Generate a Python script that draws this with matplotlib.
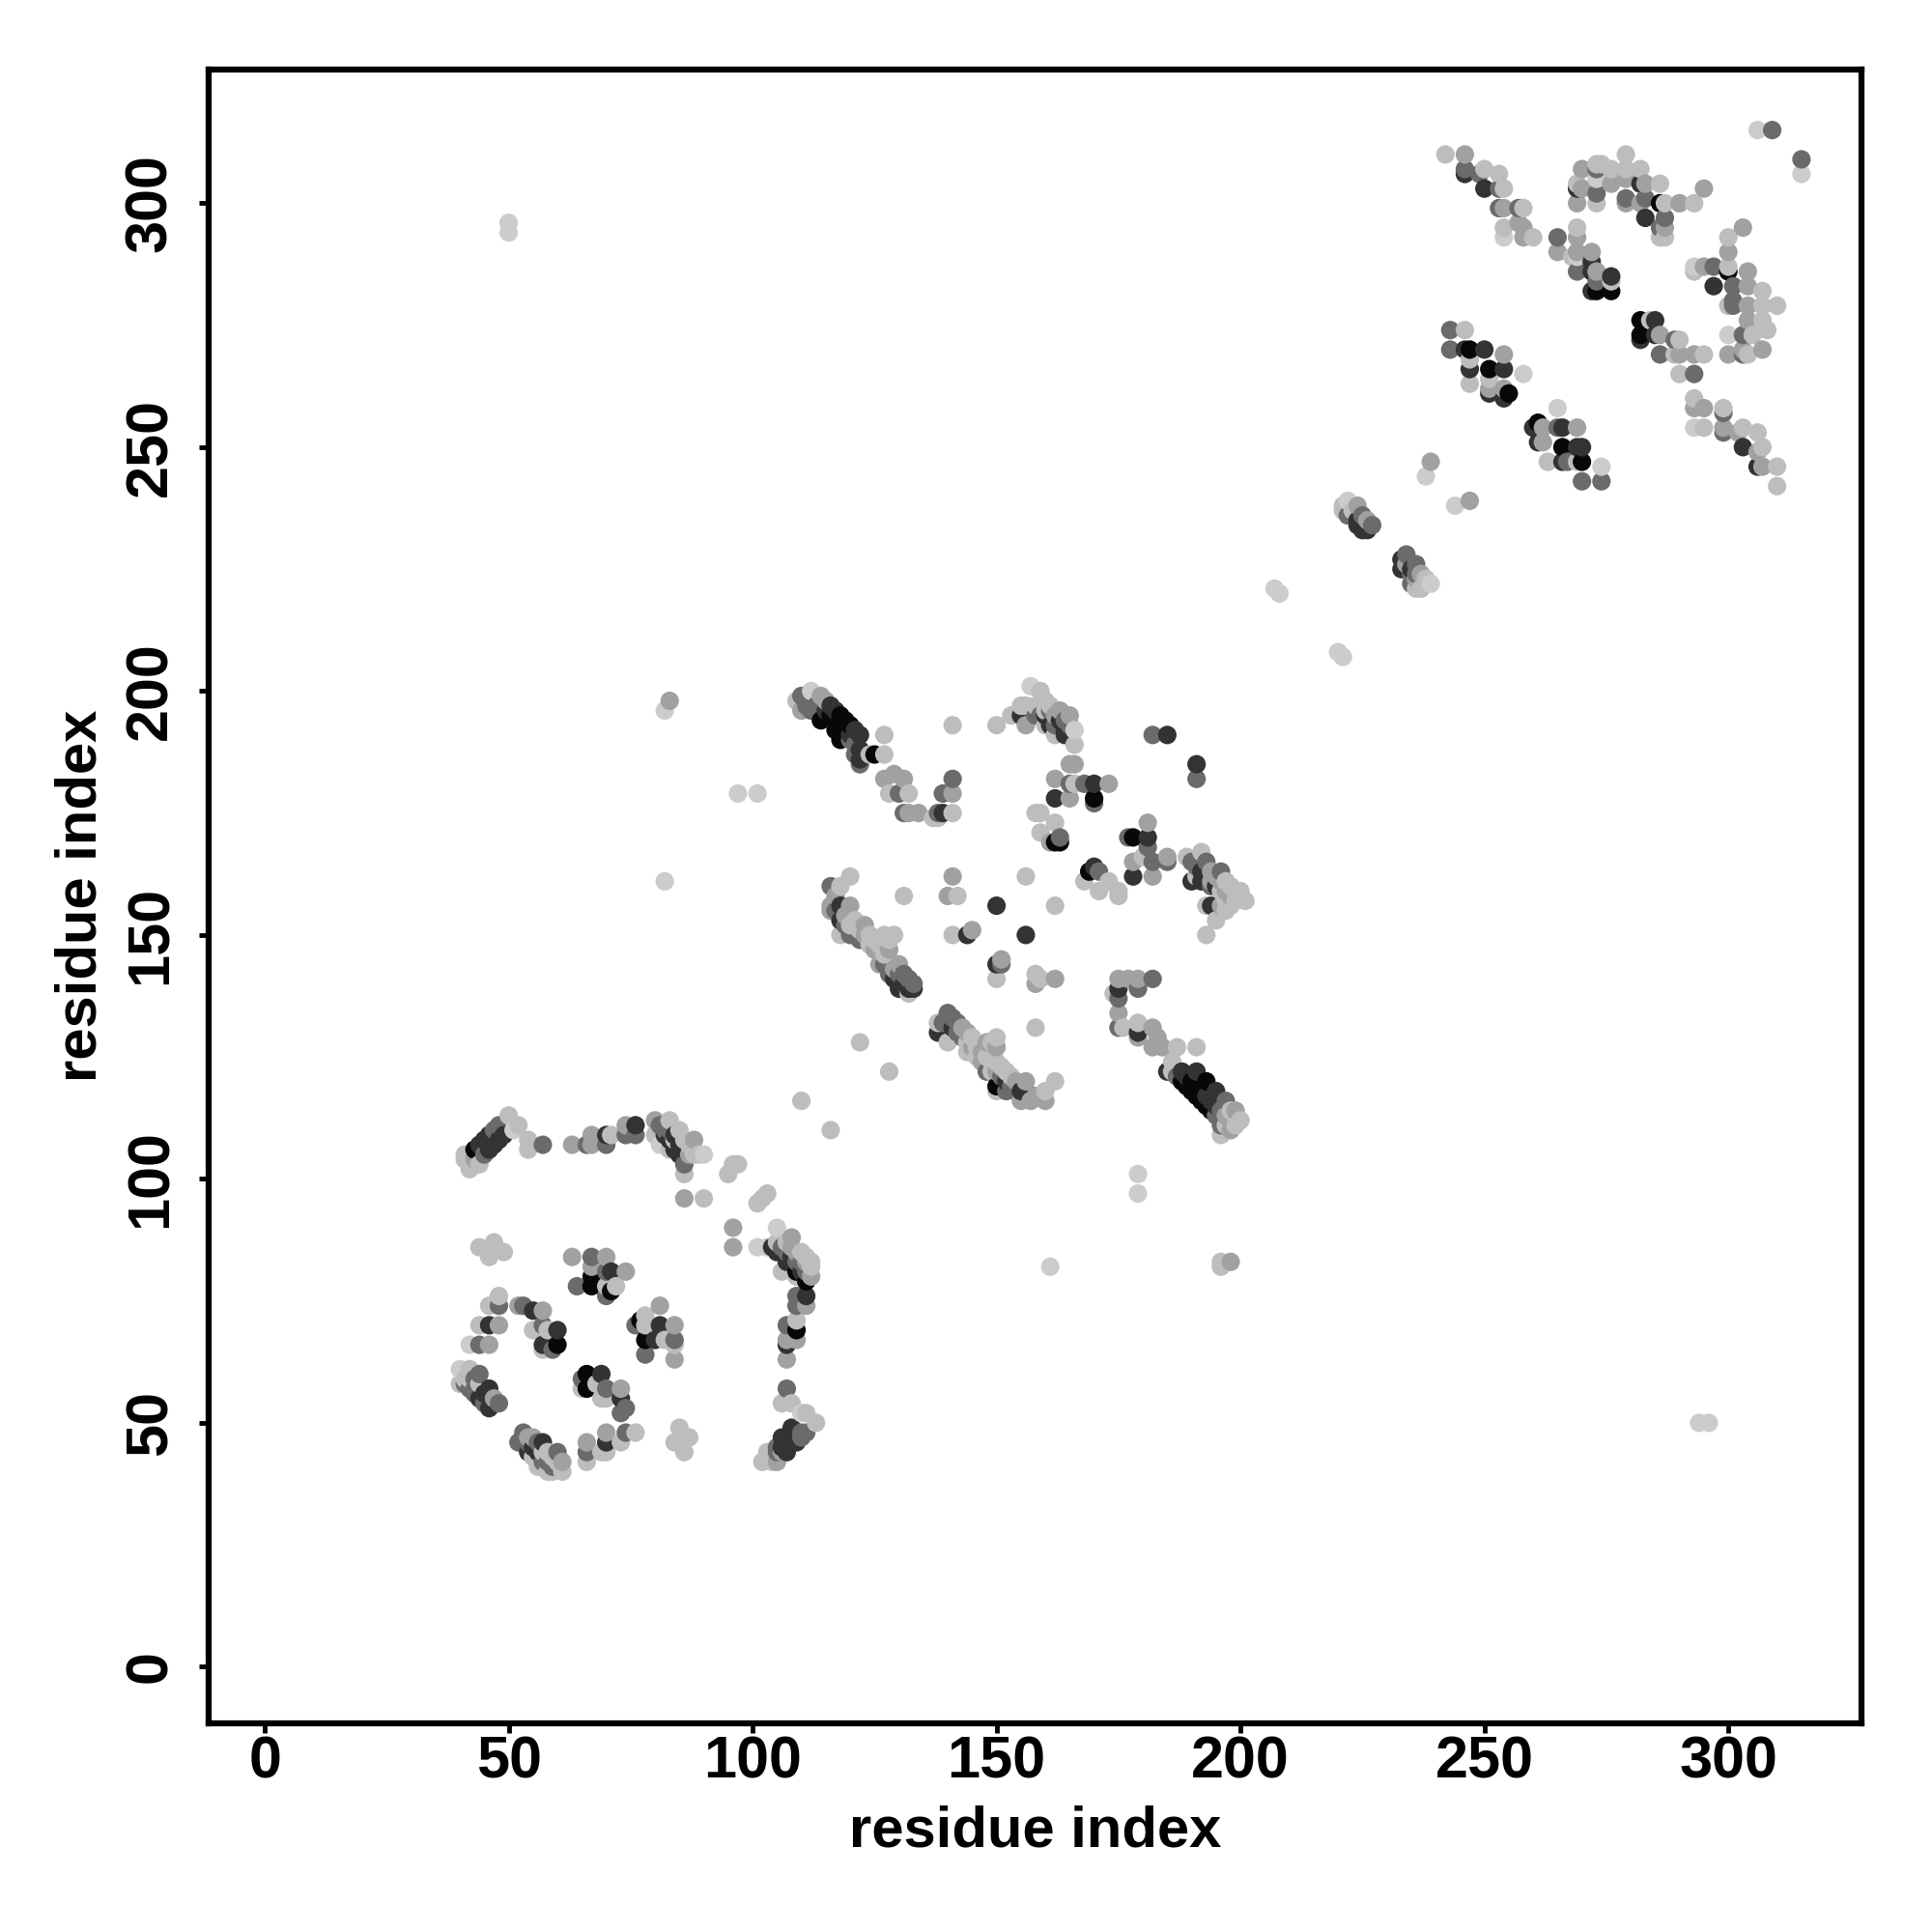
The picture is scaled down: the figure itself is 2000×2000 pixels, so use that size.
import pandas as pd
import matplotlib
matplotlib.use('Agg')
import matplotlib.pyplot as plt

# contacts: (residue i, residue j, shade)
shade = {'k': 0.03, 'd': 0.2, 'm': 0.42, 'g': 0.63, 'l': 0.74, 'p': 0.8}

arc_low = [(42,102,'l'),(41,104,'l'),(41,105,'l'),(44,103,'l'),(43,104,'g'),(45,105,'m'),(46,106,'d'),(47,107,'d'),
           (48,108,'d'),(49,109,'d'),(43,106,'k'),(44,107,'d'),(45,108,'d'),(46,109,'d'),(47,110,'m'),(48,111,'m'),
           (50,113,'l'),(52,111,'l'),(51,110,'p'),(54,108,'l'),(54,106,'l'),(57,107,'m'),
           (63,107,'g'),(66,107,'m'),(67,107,'g'),(67,109,'g'),(70,107,'m'),(70,109,'d'),(71,109,'l'),(74,109,'m'),
           (74,111,'g'),(76,109,'m'),(76,111,'d'),(80,112,'g'),(80,109,'l'),(81,107,'p'),(83,112,'l'),(82,110,'m'),
           (81,111,'m'),(85,110,'l'),(83,108,'d'),(84,106,'d'),(85,105,'d'),(86,108,'l'),(88,108,'g'),(89,105,'l'),
           (90,105,'p'),(86,103,'m'),(86,101,'l'),
           (83,110,'m'),(84,109,'d'),(85,107,'d'),(86,106,'d'),(87,107,'l'),(87,105,'g'),(88,105,'l'),(82,109,'d'),
           (83,106,'l'),(84,108,'l')]
singles_low = [(86,96,'g'),(90,96,'l'),(95,101,'l'),(96,103,'l'),(97,103,'l'),(101,95,'l'),(102,96,'l'),(103,97,'l'),
               (96,90,'g'),(96,86,'g'),(101,86,'p'),(103,86,'p'),(110,116,'l'),(116,110,'l')]
arc_right = [(105,90,'p'),(108,88,'g'),(110,85,'l'),(112,83,'l'),(112,80,'g'),(106,81,'l'),(109,80,'l'),(104,86,'d'),
             (105,85,'d'),(107,83,'d'),(109,81,'k'),(111,79,'k'),(107,85,'m'),(109,83,'m'),(111,81,'m'),
             (109,76,'m'),(111,76,'d'),(109,74,'m'),(111,74,'g'),(107,70,'m'),(109,69,'k'),(109,71,'l'),(107,67,'g'),
             (109,67,'g'),(107,66,'d'),(107,63,'g'),(107,57,'m'),(106,54,'l'),(108,54,'l'),(110,52,'p'),(111,52,'l'),
             (113,50,'l'),(108,49,'d'),(110,48,'m'),(111,48,'m'),(106,47,'d'),(109,46,'d'),(105,45,'m'),(107,44,'d'),
             (105,44,'m'),(103,44,'l'),(102,42,'l'),(104,42,'l'),(105,42,'g'),(108,47,'d'),(107,46,'d'),(106,45,'d'),
             (105,87,'l'),(106,86,'m'),(107,87,'l'),(108,86,'g'),(108,84,'d'),(109,85,'g'),(110,83,'m'),(110,81,'d'),
             (111,83,'g'),(112,82,'l'),(111,84,'l'),(108,46,'d'),(109,48,'d'),(110,47,'m'),(104,43,'l'),(106,44,'g'),
             (103,43,'l')]
ring = [(44,86,'l'),(47,87,'l'),(49,85,'l'),(46,84,'l'),(63,84,'g'),(67,84,'m'),(70,84,'g'),(67,82,'g'),(67,80,'k'),
        (67,78,'k'),(64,78,'m'),(71,81,'d'),(70,81,'m'),(74,81,'g'),(70,76,'m'),(71,77,'k'),(72,78,'l'),(70,78,'l'),
        (48,76,'l'),(46,74,'l'),(48,74,'m'),(44,70,'l'),(46,70,'d'),(48,70,'g'),(42,66,'p'),(44,66,'m'),(46,66,'g'),
        (52,74,'g'),(53,74,'m'),(55,73,'d'),(57,73,'g'),(55,69,'l'),(57,70,'m'),(58,69,'l'),(60,69,'d'),(57,66,'d'),
        (59,65,'m'),(60,66,'k'),(57,65,'l'),(81,74,'g'),(78,72,'l'),(76,70,'m'),(77,71,'k'),(78,70,'l'),(81,70,'d'),
        (84,70,'g'),(78,67,'k'),(80,67,'d'),(82,67,'l'),(84,67,'m'),(78,64,'m'),(84,63,'g'),(84,66,'l'),
        (40,61,'p'),(42,61,'l'),(44,60,'m'),(40,58,'l'),(41,58,'m'),(43,57,'m'),(46,57,'d'),(44,55,'d'),(47,55,'g'),
        (46,53,'d'),(48,54,'m'),(42,59,'l'),(53,48,'m'),(55,47,'g'),(57,46,'d'),(52,46,'m'),(55,45,'d'),(58,44,'l'),
        (60,44,'m'),(61,42,'g'),(55,43,'l'),(57,42,'m'),(58,40,'l'),(61,40,'l'),(59,41,'m'),
        (66,46,'g'),(66,44,'m'),(66,42,'l'),(70,48,'g'),(70,46,'d'),(69,44,'l'),(70,44,'l'),(74,48,'m'),(76,48,'l'),
        (73,46,'l'),(85,49,'l'),(84,46,'l'),(87,47,'l'),(86,44,'l'),(66,60,'k'),(69,60,'d'),(65,59,'m'),(66,57,'k'),
        (65,57,'l'),(68,58,'l'),(70,57,'m'),(73,57,'g'),(69,55,'l'),(70,55,'l'),(73,55,'d'),(74,53,'m'),(73,52,'m'),
        (41,59,'l'),(42,57,'m'),(43,59,'m'),(44,58,'l'),(45,56,'d'),(45,54,'m'),(47,54,'d'),(43,56,'m'),
        (54,46,'m'),(54,44,'d'),(56,44,'d'),(56,46,'m'),(57,44,'l'),(58,42,'m'),(59,43,'l'),(60,42,'l'),(59,40,'l'),
        (54,47,'g'),(56,41,'l')]

strand_a = [(110,196,'g'),(112,200,'p'),(110,199,'m'),(114,199,'g'),(109,198,'l'),(112,196,'m'),(116,197,'d'),(118,195,'k'),
            (120,193,'k'),(122,191,'d'),(114,194,'k'),(117,192,'k'),(118,190,'k'),(121,187,'m'),(122,185,'m'),(122,186,'d'),
            (124,187,'l'),(125,187,'k'),(127,187,'l'),(127,191,'l'),(127,182,'g'),(129,183,'g'),(131,182,'g'),(128,179,'l'),
            (130,179,'m'),(132,179,'l'),(131,175,'m'),(132,175,'g'),(134,175,'g'),(137,174,'l'),(138,175,'m'),(139,175,'d'),
            (141,175,'l'),(139,179,'m'),(141,179,'g'),(141,182,'m'),(138,174,'l'),(141,193,'l'),
            (111,197,'m'),(113,197,'m'),(115,196,'d'),(116,195,'k'),(117,194,'k'),(118,193,'k'),(119,192,'k'),(120,191,'d'),
            (115,198,'g'),(117,196,'d'),(119,194,'k'),(121,192,'d'),(120,190,'m'),(121,189,'m'),(122,188,'d'),(123,187,'d')]
strand_b = [(150,193,'l'),(153,195,'l'),(155,197,'l'),(156,193,'g'),(155,195,'d'),(157,201,'p'),(159,200,'l'),(156,197,'l'),
            (160,198,'l'),(163,196,'g'),(159,195,'m'),(161,193,'d'),(160,193,'l'),(164,194,'m'),(165,193,'m'),(162,191,'l'),
            (164,191,'d'),(166,189,'l'),(166,192,'p'),
            (158,197,'l'),(158,195,'m'),(160,195,'d'),(160,196,'l'),(161,197,'l'),(162,195,'g'),(162,193,'m'),(163,194,'d'),
            (164,192,'d'),(165,195,'g'),(161,196,'m')]
patch_mid = [(182,191,'m'),(185,191,'d'),(191,185,'d'),(191,182,'m'),(165,185,'g'),(166,185,'g'),(162,182,'g'),(165,181,'m'),
             (166,181,'l'),(168,181,'m'),(170,181,'d'),(173,181,'g'),(162,178,'d'),(165,178,'g'),(170,177,'m'),(170,178,'k'),
             (158,175,'l'),(159,175,'l'),(159,171,'l'),(162,173,'l'),(161,169,'g'),(162,169,'k'),(163,169,'k'),(163,170,'m'),
             (177,170,'m'),(178,170,'k'),(181,173,'g'),(181,170,'d'),(181,168,'m'),(180,166,'l'),(178,165,'g'),(182,165,'m'),
             (185,165,'m'),(185,166,'g'),(178,162,'d'),(182,162,'g'),(189,166,'l'),(192,167,'l'),(190,165,'m'),(193,165,'m'),
             (196,163,'m'),(191,162,'l'),(192,161,'d'),(194,161,'g'),(197,161,'l'),(194,160,'m'),(200,159,'l'),(201,157,'l'),
             (197,157,'l'),(198,158,'g'),(193,156,'l'),(194,156,'d'),(197,155,'l'),(195,153,'l'),(193,150,'l'),(190,161,'d'),
             (170,164,'d'),(169,163,'k'),(171,163,'m'),(168,161,'l'),(173,161,'l'),(171,159,'l'),(175,159,'l'),(175,158,'l'),
             (191,164,'m'),(192,163,'d'),(193,162,'d'),(194,163,'g'),(195,162,'g'),(195,160,'d'),(196,161,'g'),(196,159,'l'),
             (197,159,'g'),(198,160,'l'),(199,159,'l'),(199,157,'l'),(198,156,'l'),(196,156,'g')]
strand_c = [(120,162,'l'),(118,160,'l'),(116,160,'m'),(116,156,'g'),(118,156,'d'),(120,156,'g'),(116,155,'g'),(118,153,'d'),
            (121,153,'l'),(123,152,'g'),(118,150,'l'),(120,150,'m'),(122,149,'m'),(124,148,'l'),(127,150,'l'),(129,150,'l'),
            (128,149,'l'),(128,147,'g'),(126,144,'g'),(130,144,'g'),(128,142,'m'),(131,142,'m'),(133,140,'m'),(130,139,'d'),
            (132,138,'l'),(132,139,'d'),(131,158,'l'),(141,162,'g'),(140,158,'g'),(142,158,'l'),(150,156,'d'),(156,162,'l'),
            (162,156,'l'),(156,150,'d'),(141,150,'l'),(144,150,'d'),(145,151,'g'),(151,145,'g'),(150,144,'d'),(151,144,'m'),
            (150,141,'l'),(158,142,'l'),(158,140,'g'),(159,141,'l'),(162,141,'g'),(158,131,'l'),(122,128,'l'),(128,122,'l'),
            (117,158,'g'),(117,155,'m'),(119,154,'g'),(119,152,'m'),(120,152,'l'),(122,151,'l'),(123,150,'g'),(124,150,'l'),
            (125,149,'l'),(125,147,'g'),(126,148,'l'),(127,146,'l'),(127,144,'m'),(129,143,'g'),(129,141,'d'),(130,142,'m'),
            (131,140,'d'),(132,141,'m'),(133,139,'d')]
strand_d = [(140,134,'m'),(139,132,'m'),(138,132,'l'),(142,132,'m'),(138,130,'d'),(140,128,'l'),(144,130,'g'),(145,129,'l'),
            (144,126,'l'),(146,125,'l'),(150,129,'l'),(149,128,'l'),(150,127,'g'),(147,124,'g'),(148,122,'m'),(151,123,'l'),
            (153,121,'l'),(150,118,'l'),(156,120,'g'),(156,118,'d'),(154,118,'m'),(152,118,'m'),(150,119,'k'),(155,116,'g'),
            (157,116,'g'),(160,118,'l'),(162,120,'l'),(160,116,'g'),
            (141,133,'m'),(141,131,'d'),(142,130,'m'),(143,131,'g'),(143,129,'m'),(144,128,'l'),(145,127,'g'),(146,127,'l'),
            (147,126,'g'),(148,128,'g'),(148,125,'l'),(149,124,'l'),(149,122,'l'),(150,124,'l'),(150,122,'g'),(151,121,'m'),
            (152,122,'l'),(152,120,'d'),(153,119,'m'),(154,120,'g'),(155,118,'d'),(158,117,'g')]
strand_e = [(175,141,'g'),(179,141,'g'),(177,141,'g'),(182,141,'m'),(179,139,'m'),(175,139,'d'),(174,138,'l'),(175,137,'m'),
            (175,134,'g'),(175,131,'m'),(176,131,'l'),(179,132,'l'),(179,130,'d'),(179,129,'g'),(182,131,'g'),(183,129,'g'),
            (182,127,'g'),(184,127,'g'),(187,127,'l'),(191,127,'l'),(185,122,'d'),(186,122,'l'),(188,122,'d'),(191,122,'d'),
            (193,120,'k'),(195,118,'d'),(197,116,'m'),(189,119,'k'),(191,117,'k'),(193,115,'k'),(199,114,'g'),(200,112,'l'),
            (196,111,'m'),(198,110,'g'),(196,109,'l'),(198,114,'l'),
            (186,124,'l'),(187,121,'m'),(188,120,'k'),(189,121,'d'),(190,120,'k'),(190,118,'k'),(191,119,'k'),(192,118,'k'),
            (192,116,'k'),(193,117,'d'),(194,116,'d'),(194,114,'k'),(195,115,'d'),(195,113,'m'),(196,114,'m'),(196,112,'m'),
            (197,113,'g'),(197,111,'l'),(198,112,'g'),(199,111,'l')]
sparse = [(50,296,'p'),(50,294,'p'),(294,50,'p'),(296,50,'p'),(97,179,'p'),(101,179,'p'),(82,161,'p'),(82,196,'p'),(83,198,'g'),
          (179,101,'p'),(179,97,'p'),(161,82,'p'),(196,83,'l'),(196,82,'l'),(198,83,'g'),(116,110,'l'),
          (207,221,'p'),(208,220,'p'),(220,208,'p'),(221,207,'p'),
          (239,247,'g'),(238,244,'p'),(247,239,'g'),(244,238,'p')]
helix_mid = [(222,239,'p'),(221,238,'l'),(224,238,'g'),(221,237,'l'),(223,236,'m'),(225,236,'m'),(225,233,'d'),(226,233,'d'),
             (227,234,'m'),(234,228,'m'),(233,227,'d'),(233,225,'d'),(236,226,'m'),(237,224,'g'),(235,222,'m'),(237,221,'l'),
             (239,222,'p'),(236,221,'l'),
             (222,236,'m'),(223,237,'l'),(224,235,'d'),(224,234,'d'),(226,235,'g'),(234,225,'d'),(234,226,'g'),(235,225,'d'),
             (235,224,'m'),(236,223,'g'),(238,222,'l'),(238,223,'l'),(236,224,'m')]
upper_a = [(243,274,'m'),(246,274,'l'),(243,270,'m'),(246,270,'d'),(247,270,'k'),(250,270,'d'),(254,269,'g'),(247,268,'l'),
           (247,266,'d'),(251,266,'k'),(254,266,'d'),(258,265,'p'),(247,263,'l'),(251,262,'g'),(251,261,'d'),(254,262,'g'),
           (254,260,'d'),(255,261,'k'),(251,264,'l'),(265,258,'p'),(260,254,'d'),(261,255,'k'),(262,254,'g'),(265,254,'m'),
           (266,254,'d'),(269,254,'g'),(261,251,'d'),(262,251,'g'),(266,250,'k'),(270,250,'d'),(269,250,'d'),(263,247,'l'),
           (266,247,'d'),(267,247,'m'),(269,247,'l'),(270,247,'k'),(270,243,'m'),(274,246,'p'),(274,243,'m')]
upper_b = [(282,276,'k'),(285,276,'d'),(284,276,'l'),(282,273,'k'),(282,272,'d'),(286,273,'g'),(285,273,'d'),(286,269,'m'),
           (289,272,'m'),(290,272,'l'),(289,269,'l'),(290,269,'g'),(293,269,'g'),(295,269,'l'),(290,265,'l'),(293,265,'m'),
           (293,260,'l'),(293,258,'g'),(295,258,'g'),(299,258,'l'),(299,257,'m'),(293,254,'p'),(295,254,'l'),(299,254,'g'),
           (299,253,'m'),(302,253,'g'),(303,254,'l'),(306,253,'l'),(303,250,'d'),(306,249,'g'),(307,250,'l'),(306,246,'d'),
           (307,246,'g'),(310,246,'l'),(310,242,'l'),(300,279,'l'),(301,279,'m'),(304,279,'g'),(307,279,'l'),(310,279,'l'),
           (300,273,'p'),(303,273,'m'),(304,276,'g'),(307,276,'l'),(305,273,'l'),(308,274,'l'),(300,269,'g'),(303,269,'m'),
           (304,269,'l'),(307,270,'g'),(303,270,'g')]
upper_c = [(242,310,'l'),(246,310,'g'),(246,307,'m'),(246,306,'d'),(250,307,'l'),(249,306,'m'),(253,306,'l'),(250,303,'d'),
           (253,303,'m'),(254,303,'l'),(253,299,'m'),(254,299,'g'),(257,299,'m'),(258,299,'l'),(254,295,'l'),(254,293,'p'),
           (257,296,'g'),(258,295,'g'),(258,293,'g'),(260,293,'l'),(265,293,'m'),(269,295,'l'),(269,293,'g'),(265,290,'g'),
           (269,290,'g'),(268,289,'l'),(272,290,'g'),(269,289,'p'),(272,288,'d'),(269,286,'m'),(272,286,'d'),(273,286,'g'),
           (276,285,'d'),(273,282,'k'),(272,282,'d'),(276,282,'k'),(276,284,'l'),(273,284,'m'),(270,307,'g'),(273,308,'l'),
           (274,308,'l'),(273,307,'m'),(276,307,'l'),(279,310,'l'),(279,307,'l'),(282,307,'l'),(269,304,'l'),(270,303,'g'),
           (269,303,'d'),(273,305,'p'),(273,302,'m'),(269,300,'g'),(273,300,'l'),(276,304,'g'),(279,305,'g'),(283,304,'g'),
           (282,304,'d'),(286,304,'l'),(279,301,'m'),(279,300,'g'),(283,301,'m'),(282,300,'g'),(286,300,'k'),(287,300,'l'),
           (290,300,'g'),(293,300,'l'),(295,303,'g'),(283,297,'d'),(287,297,'m'),(286,295,'m'),(287,295,'g'),(286,293,'l'),
           (287,293,'l'),(306,315,'p'),(309,315,'m'),(315,309,'m'),(315,306,'p'),(303,295,'g'),(300,293,'l'),(300,290,'g'),
           (293,287,'p'),(293,286,'l'),(295,287,'g'),(297,287,'m'),(300,287,'l'),(300,286,'k'),(297,283,'d'),(301,283,'m'),
           (304,286,'g'),(304,283,'g'),(307,282,'l'),(301,280,'m')]

groups = [arc_low, singles_low, arc_right, ring, strand_a, strand_b, patch_mid, strand_c, strand_d, strand_e,
          sparse, helix_mid, upper_a, upper_b, upper_c]
df = pd.DataFrame([p for g in groups for p in g], columns=['i', 'j', 's'])
df = df.drop_duplicates(['i', 'j'], keep='last').sort_values(['i', 'j'])  # higher residue ends up on top
df['c'] = df['s'].map(shade)

plt.rcParams['font.family'] = ['Liberation Sans', 'DejaVu Sans']
plt.rcParams['font.weight'] = 'bold'

fig = plt.figure(figsize=(20, 20), dpi=100)
ax = fig.add_axes([216/2000, 1-1784/2000, (1927-216)/2000, (1784-71.5)/2000])
ax.scatter(df['i'], df['j'], c=[str(v) for v in df['c']], s=190, linewidths=0, zorder=3)

ax.set_xlim(-11.5, 327.3)
ax.set_ylim(-11.6, 327.5)
ticks = [0, 50, 100, 150, 200, 250, 300]
ax.set_xticks(ticks)
ax.set_yticks(ticks)
ax.tick_params(axis='x', length=7, width=3.5, labelsize=44, pad=2)
ax.tick_params(axis='y', length=7, width=3.5, labelsize=44, pad=15)
for lab in ax.get_yticklabels():
    lab.set_rotation(90)
    lab.set_va('center')
for side in ax.spines.values():
    side.set_linewidth(4.5)
ax.set_xlabel('residue index', fontsize=43, fontweight='bold', labelpad=10.5)
ax.set_ylabel('residue index', fontsize=43, fontweight='bold', labelpad=12.5)

fig.savefig('out.png', dpi=100)
